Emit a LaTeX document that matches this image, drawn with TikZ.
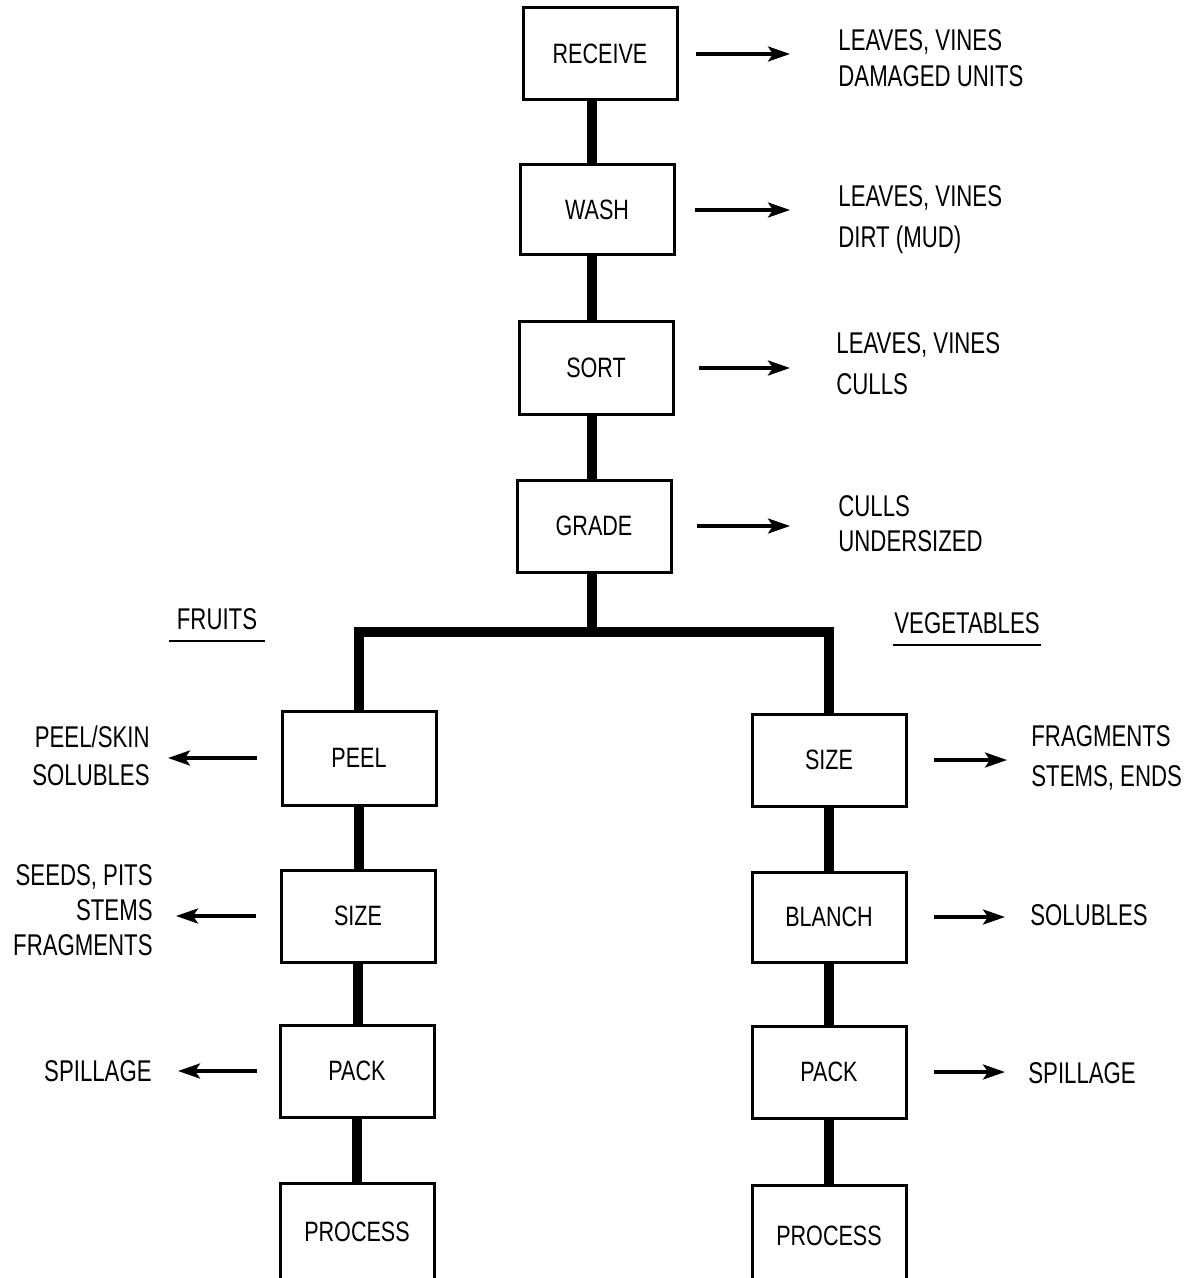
\documentclass[tikz,border=0pt]{standalone}
\usepackage{fontspec}
\setmainfont{Liberation Sans}
\newfontfamily\boxfont[FakeStretch=0.77]{Liberation Sans}
\newfontfamily\sidefont[FakeStretch=0.74]{Liberation Sans}
\usetikzlibrary{arrows.meta,calc}
\begin{document}
\begin{tikzpicture}[x=0.5pt,y=-0.5pt,
  proc/.style={draw, line width=1.5pt, minimum width=77pt, minimum height=46pt, inner sep=0pt,
    font=\boxfont\fontsize{14}{17}\selectfont},
  sidetext/.style={inner sep=0pt, text depth=0pt, font=\sidefont\fontsize{15}{18}\selectfont},
  flow/.style={line width=5pt},
  arr/.style={line width=1.7pt, -{Stealth[length=11pt,width=7.5pt,inset=2.5pt]}},
  ul/.style={line width=1.3pt}]
\useasboundingbox (0,0) rectangle (1188,1278);
\clip (0,0) rectangle (1188,1278);

% main column
\node[proc] (rec) at (600,54) {RECEIVE};
\node[proc, minimum height=45pt] (wash) at (597,210) {WASH};
\node[proc] (sort) at (596,368) {SORT};
\node[proc] (grade) at (594,526) {GRADE};

% fruits column
\node[proc, minimum height=47pt] (peel) at (359,758) {PEEL};
\node[proc] (fsize) at (358,916) {SIZE};
\node[proc] (fpack) at (357,1071) {PACK};
\node[proc, minimum height=49pt] (fproc) at (357,1232) {PROCESS};

% vegetables column
\node[proc] (vsize) at (829,760) {SIZE};
\node[proc, minimum height=45pt] (blanch) at (829,917) {BLANCH};
\node[proc] (vpack) at (829,1072) {PACK};
\node[proc, minimum height=51pt] (vproc) at (829,1236) {PROCESS};

% thick flow lines
\coordinate (br) at (592,632);
\draw[flow] (rec.south -| br) -- (wash.north -| br);
\draw[flow] (wash.south -| br) -- (sort.north -| br);
\draw[flow] (sort.south -| br) -- (grade.north -| br);
\draw[flow] (grade.south -| br) -- (br);
\draw[flow, line join=miter] (peel.north) -- (peel.north |- br) -- (vsize.north |- br) -- (vsize.north);
\draw[flow] (peel.south) -- (peel.south |- fsize.north);
\draw[flow] (fsize.south) -- (fsize.south |- fpack.north);
\draw[flow] (fpack.south) -- (fpack.south |- fproc.north);
\draw[flow] (vsize.south) -- (vsize.south |- blanch.north);
\draw[flow] (blanch.south) -- (blanch.south |- vpack.north);
\draw[flow] (vpack.south) -- (vpack.south |- vproc.north);

% side texts, main column
\node[sidetext, anchor=west, align=left] (t1) at (838,58) {LEAVES, VINES\\DAMAGED UNITS};
\node[sidetext, anchor=west, align=left] (t2) at (838,217) {LEAVES, VINES\\[2.5pt]DIRT (MUD)};
\node[sidetext, anchor=west, align=left] (t3) at (836,364) {LEAVES, VINES\\[2.5pt]CULLS};
\node[sidetext, anchor=west, align=left] (t4) at (838,524) {CULLS\\[-0.5pt]UNDERSIZED};

% headings
\node[sidetext, minimum width=47.5pt] (fr) at (217,619) {FRUITS};
\draw[ul] ($(fr.south west)+(0,11)$) -- ($(fr.south east)+(0,11)$);
\node[sidetext, minimum width=73.5pt] (vg) at (967,623) {VEGETABLES};
\draw[ul] ($(vg.south west)+(0,11)$) -- ($(vg.south east)+(0,11)$);

% fruits side texts
\node[sidetext, anchor=east, align=right] (t5) at (150,756) {PEEL/SKIN\\[1pt]SOLUBLES};
\node[sidetext, anchor=east, align=right] (t6) at (153,910) {SEEDS, PITS\\[-0.5pt]STEMS\\[-0.5pt]FRAGMENTS};
\node[sidetext, anchor=east] (t7) at (152,1071) {SPILLAGE};

% vegetables side texts
\node[sidetext, anchor=west, align=left] (t8) at (1031,756) {FRAGMENTS\\[2pt]STEMS, ENDS};
\node[sidetext, anchor=west] (t9) at (1030,915) {SOLUBLES};
\node[sidetext, anchor=west] (t10) at (1028,1073) {SPILLAGE};

% arrows
\draw[arr] ([xshift=8.5pt]rec.east) -- ($(rec.east -| t1.west)+(-48,0)$);
\draw[arr] ([xshift=9.5pt]wash.east) -- ($(wash.east -| t2.west)+(-48,0)$);
\draw[arr] ([xshift=12pt]sort.east) -- ($(sort.east -| t3.west)+(-46,0)$);
\draw[arr] ([xshift=12pt]grade.east) -- ($(grade.east -| t4.west)+(-48,0)$);

\draw[arr] ([xshift=-12pt]peel.west) -- ($(peel.west -| t5.east)+(18,0)$);
\draw[arr] ([xshift=-12pt]fsize.west) -- ($(fsize.west -| t6.east)+(23,0)$);
\draw[arr] ([xshift=-11pt]fpack.west) -- ($(fpack.west -| t7.east)+(26,0)$);

\draw[arr] ([xshift=13pt]vsize.east) -- ($(vsize.east -| t8.west)+(-24,0)$);
\draw[arr] ([xshift=13pt]blanch.east) -- ($(blanch.east -| t9.west)+(-25,0)$);
\draw[arr] ([xshift=13pt]vpack.east) -- ($(vpack.east -| t10.west)+(-23,0)$);
\end{tikzpicture}
\end{document}
